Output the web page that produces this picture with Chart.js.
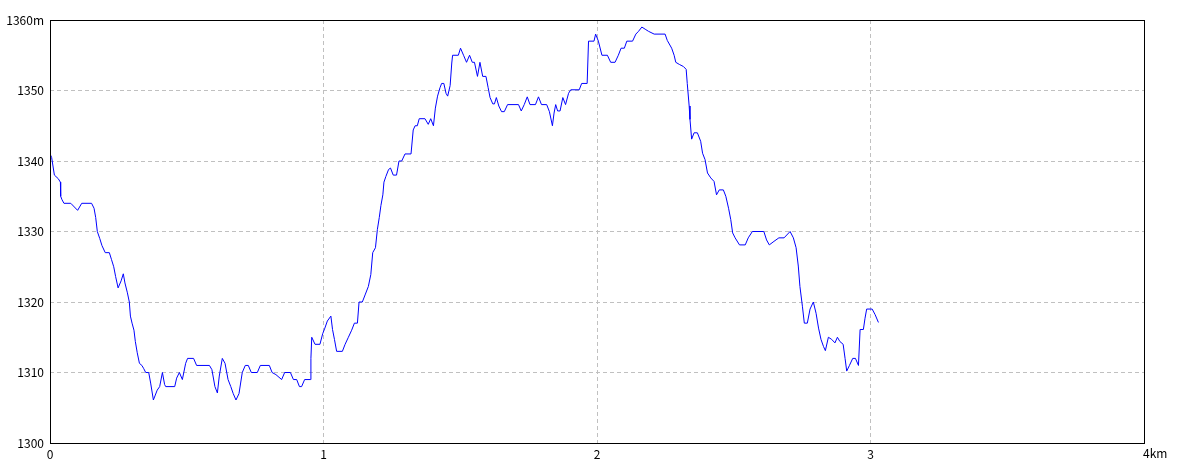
<!DOCTYPE html>
<html>
<head>
<meta charset="utf-8">
<script src="https://cdn.jsdelivr.net/npm/chart.js@4"></script>
<style>
  body { margin: 0; background: #fff; }
</style>
</head>
<body>
<canvas id="profile" width="1184" height="473"></canvas>
<script>
// distance along the route (km) and elevation (m)
var distKm = [
  0.000, 0.006, 0.016, 0.030, 0.038, 0.039, 0.044, 0.051, 0.076, 0.101,
  0.116, 0.152, 0.161, 0.167, 0.173, 0.182, 0.190, 0.202, 0.217, 0.225,
  0.233, 0.240, 0.249, 0.260, 0.268, 0.274, 0.283, 0.290, 0.294, 0.300,
  0.307, 0.312, 0.319, 0.327, 0.336, 0.342, 0.350, 0.361, 0.368, 0.378,
  0.385, 0.392, 0.401, 0.411, 0.419, 0.423, 0.456, 0.463, 0.473, 0.484,
  0.496, 0.503, 0.525, 0.536, 0.583, 0.592, 0.603, 0.612, 0.619, 0.630,
  0.640, 0.651, 0.661, 0.670, 0.680, 0.691, 0.703, 0.714, 0.725, 0.736,
  0.758, 0.769, 0.802, 0.812, 0.826, 0.847, 0.858, 0.879, 0.890, 0.902,
  0.912, 0.920, 0.931, 0.953, 0.954, 0.957, 0.969, 0.987, 0.997, 1.005,
  1.014, 1.027, 1.033, 1.040, 1.048, 1.069, 1.079, 1.091, 1.103, 1.113,
  1.124, 1.130, 1.142, 1.152, 1.164, 1.173, 1.180, 1.190, 1.197, 1.204,
  1.210, 1.217, 1.221, 1.228, 1.238, 1.245, 1.255, 1.267, 1.276, 1.286,
  1.298, 1.320, 1.328, 1.335, 1.343, 1.350, 1.371, 1.383, 1.392, 1.402,
  1.409, 1.417, 1.426, 1.432, 1.440, 1.448, 1.454, 1.463, 1.469, 1.472,
  1.493, 1.501, 1.512, 1.523, 1.534, 1.544, 1.552, 1.563, 1.572, 1.582,
  1.594, 1.602, 1.609, 1.619, 1.625, 1.632, 1.641, 1.651, 1.661, 1.673,
  1.713, 1.723, 1.734, 1.745, 1.755, 1.775, 1.786, 1.797, 1.816, 1.826,
  1.837, 1.843, 1.849, 1.856, 1.865, 1.875, 1.885, 1.896, 1.904, 1.935,
  1.944, 1.964, 1.969, 1.989, 1.995, 2.005, 2.018, 2.038, 2.050, 2.066,
  2.078, 2.088, 2.100, 2.109, 2.130, 2.142, 2.152, 2.164, 2.176, 2.188,
  2.209, 2.249, 2.257, 2.273, 2.282, 2.288, 2.301, 2.316, 2.326, 2.330,
  2.337, 2.340, 2.346, 2.355, 2.367, 2.379, 2.386, 2.395, 2.404, 2.416,
  2.428, 2.437, 2.447, 2.462, 2.471, 2.481, 2.489, 2.496, 2.505, 2.521,
  2.542, 2.553, 2.568, 2.610, 2.620, 2.630, 2.647, 2.665, 2.684, 2.706,
  2.718, 2.728, 2.736, 2.742, 2.751, 2.758, 2.769, 2.779, 2.791, 2.801,
  2.810, 2.819, 2.828, 2.835, 2.846, 2.858, 2.870, 2.879, 2.888, 2.900,
  2.907, 2.913, 2.923, 2.935, 2.945, 2.956, 2.962, 2.974, 2.980, 2.986,
  3.006, 3.017, 3.029
];
var elevM = [
  1341, 1340.5, 1338, 1337.5, 1337, 1335, 1334.5, 1334, 1334, 1333,
  1334, 1334, 1333.3, 1332, 1330, 1329, 1328, 1327, 1327, 1326,
  1325, 1323.6, 1322, 1323, 1324, 1322.7, 1321.3, 1320, 1318, 1317,
  1316, 1314.4, 1312.8, 1311.3, 1311, 1310.6, 1310, 1310, 1308.5, 1306.1,
  1306.8, 1307.5, 1308, 1310, 1308.3, 1308, 1308, 1309.2, 1310, 1309,
  1311.3, 1312, 1312, 1311, 1311, 1310.4, 1308, 1307.1, 1309.5, 1312,
  1311.3, 1309, 1308, 1307, 1306.1, 1307, 1310, 1311, 1311, 1310,
  1310, 1311, 1311, 1310, 1309.7, 1309, 1310, 1310, 1309, 1309,
  1308, 1308, 1309, 1309, 1312, 1315, 1314, 1314, 1315.5, 1316.3,
  1317.3, 1318, 1316.1, 1314.7, 1313, 1313, 1314, 1315, 1316, 1317,
  1317, 1320, 1320, 1321, 1322.2, 1323.9, 1327, 1327.7, 1330.3, 1332,
  1333.7, 1335.2, 1337, 1337.8, 1338.8, 1339, 1338, 1338, 1340, 1340,
  1341, 1341, 1344.4, 1345, 1345, 1346, 1346, 1345.2, 1346, 1345,
  1347.5, 1349.2, 1350.4, 1351, 1351, 1349.6, 1349.2, 1350.7, 1353.9, 1355,
  1355, 1356, 1355, 1354, 1355, 1354, 1354, 1352, 1354, 1352,
  1352, 1350.4, 1349, 1348.1, 1348.1, 1349, 1347.8, 1347, 1347, 1348,
  1348, 1347.1, 1348, 1349.1, 1348, 1348, 1349.1, 1348, 1348, 1347,
  1345, 1346.8, 1348, 1347.1, 1347.1, 1349, 1348, 1349.6, 1350.1, 1350.1,
  1351, 1351, 1357, 1357, 1358, 1357, 1355, 1355, 1354, 1354,
  1355, 1356, 1356, 1357, 1357, 1358, 1358.4, 1359, 1358.7, 1358.4,
  1358, 1358, 1357.1, 1356, 1355, 1354, 1353.7, 1353.4, 1353, 1351,
  1347.8, 1345.9, 1343.1, 1344, 1344, 1342.8, 1341.1, 1340.2, 1338.3, 1337.6,
  1337.1, 1335.2, 1335.9, 1335.9, 1335, 1333.3, 1331.7, 1329.8, 1329.1, 1328.1,
  1328.1, 1329.1, 1330, 1330, 1328.8, 1328.1, 1328.6, 1329.1, 1329.1, 1330,
  1329.1, 1327.7, 1325.1, 1322.2, 1319.4, 1317, 1317, 1319, 1320, 1318.4,
  1316.3, 1314.7, 1313.7, 1313.1, 1315, 1314.7, 1314.2, 1315, 1314.4, 1314,
  1312, 1310.2, 1311, 1312, 1312, 1311, 1316.1, 1316.1, 1317.7, 1319,
  1319, 1318.2, 1317.1
];

// axis ranges and tick labels
var xTicks = [0, 1, 2, 3, 4];
var xTickLabels = ['0', '1', '2', '3', '4km'];
var yTicks = [1300, 1310, 1320, 1330, 1340, 1350, 1360];
var yTickLabels = ['1300', '1310', '1320', '1330', '1340', '1350', '1360m'];

var points = [];
for (var i = 0; i < distKm.length; i++) {
  points.push({ x: distKm[i], y: elevM[i] });
}

var labelFont = { family: "'Liberation Sans Narrow', 'Noto Sans CJK JP', sans-serif", size: 12 };

// black frame round the plot area, and the last x label which starts at its tick
var framePlugin = {
  id: 'frame',
  afterDraw: function (chart) {
    var a = chart.chartArea;
    var ctx = chart.ctx;
    ctx.save();
    ctx.strokeStyle = '#000';
    ctx.lineWidth = 1;
    ctx.strokeRect(Math.round(a.left) + 0.5, Math.round(a.top) + 0.5,
      Math.round(a.right - a.left), Math.round(a.bottom - a.top));

    var last = xTicks.length - 1;
    var px = chart.scales.x.getPixelForValue(xTicks[last]);
    ctx.fillStyle = '#000';
    ctx.font = labelFont.size + 'px ' + labelFont.family;
    ctx.textAlign = 'left';
    ctx.textBaseline = 'top';
    ctx.fillText(xTickLabels[last], px - 1, a.bottom + 4);
    ctx.restore();
  }
};

new Chart(document.getElementById('profile'), {
  type: 'line',
  data: {
    datasets: [{
      data: points,
      borderColor: '#0000ff',
      borderWidth: 1,
      pointRadius: 0,
      tension: 0,
      fill: false
    }]
  },
  options: {
    responsive: false,
    animation: false,
    layout: { padding: { top: 20, right: 40, left: 0, bottom: 0 } },
    plugins: {
      legend: { display: false },
      tooltip: { enabled: false }
    },
    scales: {
      x: {
        type: 'linear',
        min: xTicks[0],
        max: xTicks[xTicks.length - 1],
        afterFit: function (scale) { scale.height = 30; },
        afterBuildTicks: function (scale) {
          scale.ticks = xTicks.map(function (v) { return { value: v }; });
        },
        ticks: {
          color: '#000',
          font: labelFont,
          padding: 4,
          maxRotation: 0,
          callback: function (value) {
            var k = xTicks.indexOf(value);
            return k === xTicks.length - 1 ? '' : xTickLabels[k];
          }
        },
        grid: {
          drawTicks: false,
          color: function (c) {
            var v = c.tick ? c.tick.value : null;
            return (v === 0 || v === 4) ? 'rgba(0,0,0,0)' : '#c0c0c0';
          }
        },
        border: { display: false, dash: [4, 3] }
      },
      y: {
        min: yTicks[0],
        max: yTicks[yTicks.length - 1],
        afterFit: function (scale) { scale.width = 50; },
        afterBuildTicks: function (scale) {
          scale.ticks = yTicks.map(function (v) { return { value: v }; });
        },
        ticks: {
          color: '#000',
          font: labelFont,
          padding: 6,
          callback: function (value) { return yTickLabels[yTicks.indexOf(value)]; }
        },
        grid: {
          drawTicks: false,
          color: function (c) {
            var v = c.tick ? c.tick.value : null;
            return (v === 1300 || v === 1360) ? 'rgba(0,0,0,0)' : '#c0c0c0';
          }
        },
        border: { display: false, dash: [4, 3] }
      }
    }
  },
  plugins: [framePlugin]
});
</script>
</body>
</html>
